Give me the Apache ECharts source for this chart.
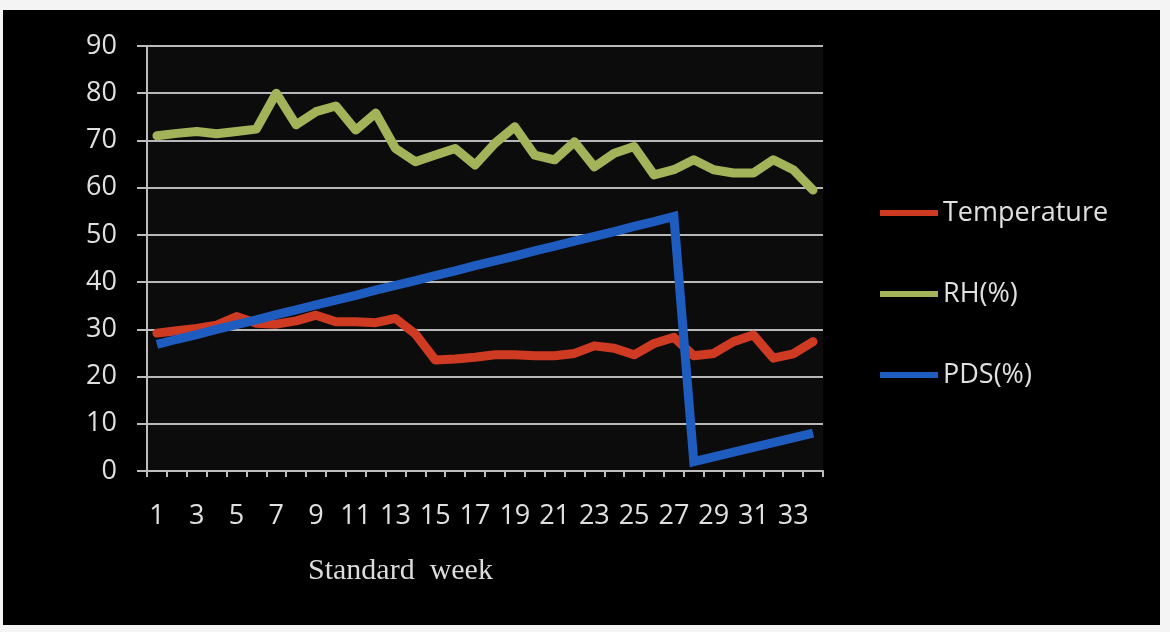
<!DOCTYPE html>
<html>
<head>
<meta charset="utf-8">
<script src="https://cdn.jsdelivr.net/npm/echarts@6/dist/echarts.min.js"></script>
<style>
html,body{margin:0;padding:0;background:#f4f4f4;width:1170px;height:632px;overflow:hidden;}
#chart{position:absolute;left:3px;top:10px;width:1157px;height:615px;background:#000;}
</style>
</head>
<body>
<div id="chart"></div>
<script>
const weeks = ['1','2','3','4','5','6','7','8','9','10','11','12','13','14','15','16','17','18','19','20','21','22','23','24','25','26','27','28','29','30','31','32','33','34'];
const temperature = [29.2, 29.7, 30.2, 30.9, 32.7, 31.3, 31.1, 31.8, 33.0, 31.6, 31.6, 31.4, 32.3, 29.0, 23.5, 23.7, 24.1, 24.6, 24.6, 24.4, 24.4, 24.9, 26.5, 26.0, 24.6, 27.0, 28.3, 24.4, 24.9, 27.4, 28.8, 23.9, 24.8, 27.4];
const rh = [71.0, 71.5, 71.9, 71.4, 71.9, 72.4, 80.0, 73.3, 76.1, 77.3, 72.2, 75.8, 68.3, 65.5, 66.9, 68.3, 64.8, 69.4, 72.9, 66.9, 65.9, 69.7, 64.4, 67.3, 68.7, 62.7, 63.8, 65.9, 63.8, 63.1, 63.1, 65.9, 63.8, 59.5];
const pds = [26.8, 27.9, 28.9, 30.0, 31.0, 32.0, 33.1, 34.1, 35.2, 36.2, 37.2, 38.3, 39.3, 40.3, 41.4, 42.4, 43.5, 44.5, 45.5, 46.6, 47.6, 48.7, 49.7, 50.7, 51.8, 52.8, 53.9, 2.0, 3.0, 4.0, 5.0, 6.0, 7.0, 8.0];
const seriesNames = ['Temperature', 'RH(%)', 'PDS(%)'];
const xTitle = 'Standard  week';

const chart = echarts.init(document.getElementById('chart'), null, {renderer: 'canvas'});
const lineCommon = {type: 'line', showSymbol: false, symbol: 'none', smooth: false};
chart.setOption({
  backgroundColor: '#000',
  animation: false,
  title: {
    text: xTitle,
    left: 300, top: 541,
    textStyle: {fontFamily: 'Liberation Serif', fontWeight: 'normal', fontSize: 30, color: '#dcdcdc'}
  },
  grid: {left: 144, top: 36, right: 337, bottom: 154, show: true, backgroundColor: '#0c0c0c', borderWidth: 0},
  legend: {
    orient: 'vertical', left: 872, top: 183,
    itemWidth: 58, itemHeight: 6, itemGap: 51,
    icon: 'rect',
    textStyle: {fontFamily: 'Open Sans', fontSize: 27, color: '#e0e0e0', lineHeight: 30},
    data: seriesNames
  },
  xAxis: {
    type: 'category', data: weeks, boundaryGap: true,
    axisLine: {lineStyle: {color: '#bdbdbd', width: 2}},
    axisTick: {show: true, alignWithLabel: false, interval: 0, length: 6, lineStyle: {color: '#bdbdbd', width: 2}},
    axisLabel: {interval: 1, margin: 32, fontFamily: 'Open Sans', fontSize: 27, color: '#e0e0e0'},
    splitLine: {show: false}
  },
  yAxis: {
    type: 'value', min: 0, max: 90, interval: 10,
    axisLine: {show: true, lineStyle: {color: '#bdbdbd', width: 2}},
    axisTick: {show: true, length: 10, lineStyle: {color: '#bdbdbd', width: 2}},
    axisLabel: {margin: 30, fontFamily: 'Open Sans', fontSize: 27, color: '#e0e0e0'},
    splitLine: {show: true, lineStyle: {color: '#b8b8b8', width: 2}}
  },
  series: [
    Object.assign({}, lineCommon, {name: seriesNames[0], data: temperature, color: '#cf3a22', lineStyle: {width: 9, color: '#cf3a22', join: 'round', cap: 'round'}}),
    Object.assign({}, lineCommon, {name: seriesNames[1], data: rh, color: '#a3b35a', lineStyle: {width: 9, color: '#a3b35a', join: 'round', cap: 'round'}}),
    Object.assign({}, lineCommon, {name: seriesNames[2], data: pds, color: '#1f5cc0', lineStyle: {width: 9, color: '#1f5cc0', join: 'miter', cap: 'butt'}})
  ]
});
</script>
</body>
</html>
